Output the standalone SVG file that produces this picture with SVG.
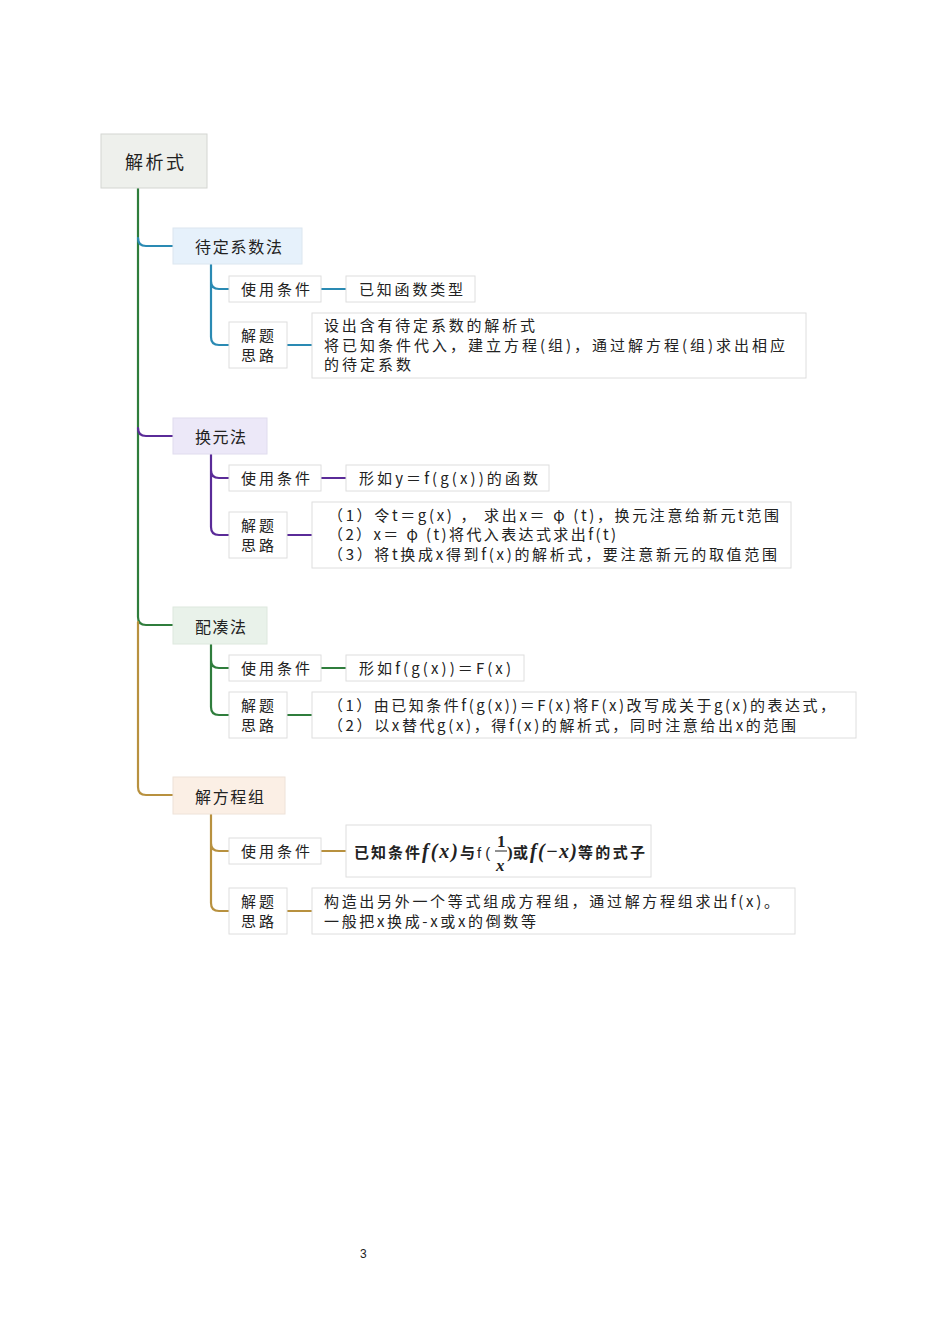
<svg xmlns="http://www.w3.org/2000/svg" width="950" height="1344" viewBox="0 0 950 1344">
<style>
text{font-family:"Noto Sans CJK SC","Noto Sans",sans-serif;fill:#222;}
.t{font-size:15px;}
.c{font-size:15px;}
.h{font-size:16px;}
.box{fill:#fff;stroke:#dedede;stroke-width:1;}
.ln{fill:none;stroke-width:2.2;stroke-linecap:round;}
.blue{stroke:#2a8ab3;}
.pur{stroke:#5a2b98;}
.grn{stroke:#2f7d3c;}
.gold{stroke:#b8913f;}
.m{font-family:"Liberation Serif","DejaVu Serif",serif;font-style:italic;font-weight:bold;font-size:20px;}
.k{font-size:15px;font-weight:bold;}
</style>
<rect width="950" height="1344" fill="#fff"/>
<g id="connectors">
<path class="ln grn" d="M138,188 V617 Q138,625 146,625 H173"/>
<path class="ln gold" d="M138,622 V787 Q138,795 146,795 H173"/>
<path class="ln blue" d="M138,238 Q138,246 146,246 H173"/>
<path class="ln pur" d="M138,428 Q138,436 146,436 H173"/>
<path class="ln blue" d="M211,264 V281 Q211,289 219,289 H229 M211,264 V337 Q211,345 219,345 H229 M321,289 H346 M287,345 H312"/>
<path class="ln pur" d="M211,454 V470 Q211,478 219,478 H229 M211,454 V527 Q211,535 219,535 H229 M321,478 H346 M287,535 H312"/>
<path class="ln grn" d="M211,644 V660 Q211,668 219,668 H229 M211,644 V707 Q211,715 219,715 H229 M321,668 H346 M287,715 H312"/>
<path class="ln gold" d="M211,814 V843 Q211,851 219,851 H229 M211,814 V903 Q211,911 219,911 H229 M321,851 H346 M287,911 H312"/>
</g>
<g id="root">
<rect x="101" y="134" width="106" height="54" fill="#eef0ec" stroke="#d4d6d2"/>
<text x="125" y="169" style="font-size:18px" textLength="59" lengthAdjust="spacing">解析式</text>
</g>
<g id="n1">
<rect x="173" y="228" width="129" height="36" fill="#e6f1fb" stroke="#dce6ef"/>
<text class="h" x="195" y="253" textLength="87" lengthAdjust="spacing">待定系数法</text>
</g>
<g id="n1a"><rect class="box" x="229" y="276" width="92" height="26"/><text class="t" x="241" y="295" textLength="69" lengthAdjust="spacing">使用条件</text></g>
<g id="n1b"><rect class="box" x="346" y="276" width="129" height="26"/><text class="t" x="359" y="295" textLength="104" lengthAdjust="spacing">已知函数类型</text></g>
<g id="n1c"><rect class="box" x="229" y="322" width="58" height="46"/><text class="t" x="241" y="341" textLength="33" lengthAdjust="spacing">解题</text><text class="t" x="241" y="361" textLength="33" lengthAdjust="spacing">思路</text></g>
<g id="n1d"><rect class="box" x="312" y="313" width="494" height="65"/>
<text class="c" x="324" y="331" textLength="211" lengthAdjust="spacing">设出含有待定系数的解析式</text>
<text class="c" x="324" y="351" textLength="461" lengthAdjust="spacing">将已知条件代入，建立方程(组)，通过解方程(组)求出相应</text>
<text class="c" x="324" y="370" textLength="87" lengthAdjust="spacing">的待定系数</text></g>

<g id="n2">
<rect x="173" y="418" width="94" height="36" fill="#ece8f8" stroke="#e0dcee"/>
<text class="h" x="195" y="443" textLength="51" lengthAdjust="spacing">换元法</text>
</g>
<g id="n2a"><rect class="box" x="229" y="465" width="92" height="26"/><text class="t" x="241" y="484" textLength="69" lengthAdjust="spacing">使用条件</text></g>
<g id="n2b"><rect class="box" x="346" y="465" width="203" height="26"/><text class="c" x="359" y="484" textLength="179" lengthAdjust="spacing">形如y＝f(g(x))的函数</text></g>
<g id="n2c"><rect class="box" x="229" y="512" width="58" height="46"/><text class="t" x="241" y="531" textLength="33" lengthAdjust="spacing">解题</text><text class="t" x="241" y="551" textLength="33" lengthAdjust="spacing">思路</text></g>
<g id="n2d"><rect class="box" x="312" y="502" width="479" height="66"/>
<text class="c" x="328" y="521" textLength="451" lengthAdjust="spacing">（1）令t＝g(x) ， 求出x＝ φ (t)，换元注意给新元t范围</text>
<text class="c" x="328" y="540" textLength="288" lengthAdjust="spacing">（2）x＝ φ (t)将代入表达式求出f(t)</text>
<text class="c" x="328" y="560" textLength="449" lengthAdjust="spacing">（3）将t换成x得到f(x)的解析式，要注意新元的取值范围</text></g>

<g id="n3">
<rect x="173" y="607" width="94" height="37" fill="#e9f2ea" stroke="#dde8de"/>
<text class="h" x="195" y="633" textLength="51" lengthAdjust="spacing">配凑法</text>
</g>
<g id="n3a"><rect class="box" x="229" y="655" width="92" height="26"/><text class="t" x="241" y="674" textLength="69" lengthAdjust="spacing">使用条件</text></g>
<g id="n3b"><rect class="box" x="346" y="655" width="178" height="26"/><text class="c" x="359" y="674" textLength="152" lengthAdjust="spacing">形如f(g(x))＝F(x)</text></g>
<g id="n3c"><rect class="box" x="229" y="692" width="58" height="46"/><text class="t" x="241" y="711" textLength="33" lengthAdjust="spacing">解题</text><text class="t" x="241" y="731" textLength="33" lengthAdjust="spacing">思路</text></g>
<g id="n3d"><rect class="box" x="312" y="692" width="544" height="46"/>
<text class="c" x="328" y="711" textLength="507" lengthAdjust="spacing">（1）由已知条件f(g(x))＝F(x)将F(x)改写成关于g(x)的表达式，</text>
<text class="c" x="328" y="731" textLength="468" lengthAdjust="spacing">（2）以x替代g(x)，得f(x)的解析式，同时注意给出x的范围</text></g>

<g id="n4">
<rect x="173" y="777" width="112" height="37" fill="#fbefe5" stroke="#eee2d8"/>
<text class="h" x="195" y="803" textLength="69" lengthAdjust="spacing">解方程组</text>
</g>
<g id="n4a"><rect class="box" x="229" y="838" width="92" height="26"/><text class="t" x="241" y="857" textLength="69" lengthAdjust="spacing">使用条件</text></g>
<g id="n4b"><rect class="box" x="346" y="825" width="305" height="52" stroke="#cfcfcf"/>
<text class="k" x="354" y="858" textLength="66" lengthAdjust="spacing">已知条件</text>
<text class="m" x="422" y="858" textLength="36" lengthAdjust="spacing">f(x)</text>
<text class="k" x="460" y="858">与</text>
<text x="477" y="858" style="font-size:15px;font-family:'Liberation Sans',sans-serif">f (</text>
<text x="497" y="847" style="font-size:17px;font-weight:bold;font-family:'Liberation Serif',serif">1</text>
<line x1="495" y1="851" x2="507" y2="851" stroke="#222" stroke-width="1"/>
<text class="m" x="496" y="871" style="font-size:17px">x</text>
<text x="507" y="858" style="font-size:17px;font-weight:bold;font-family:'Liberation Serif',serif">)</text>
<text class="k" x="513" y="858">或</text>
<text class="m" x="530" y="858" textLength="47" lengthAdjust="spacing">f(−x)</text>
<text class="k" x="578" y="858" textLength="67" lengthAdjust="spacing">等的式子</text></g>
<g id="n4c"><rect class="box" x="229" y="888" width="58" height="46"/><text class="t" x="241" y="907" textLength="33" lengthAdjust="spacing">解题</text><text class="t" x="241" y="927" textLength="33" lengthAdjust="spacing">思路</text></g>
<g id="n4d"><rect class="box" x="312" y="888" width="483" height="46"/>
<text class="c" x="324" y="907" textLength="455" lengthAdjust="spacing">构造出另外一个等式组成方程组，通过解方程组求出f(x)。</text>
<text class="c" x="324" y="927" textLength="212" lengthAdjust="spacing">一般把x换成-x或x的倒数等</text></g>

<text x="360" y="1258" style="font-family:'Liberation Sans',sans-serif;font-size:12px">3</text>
</svg>
